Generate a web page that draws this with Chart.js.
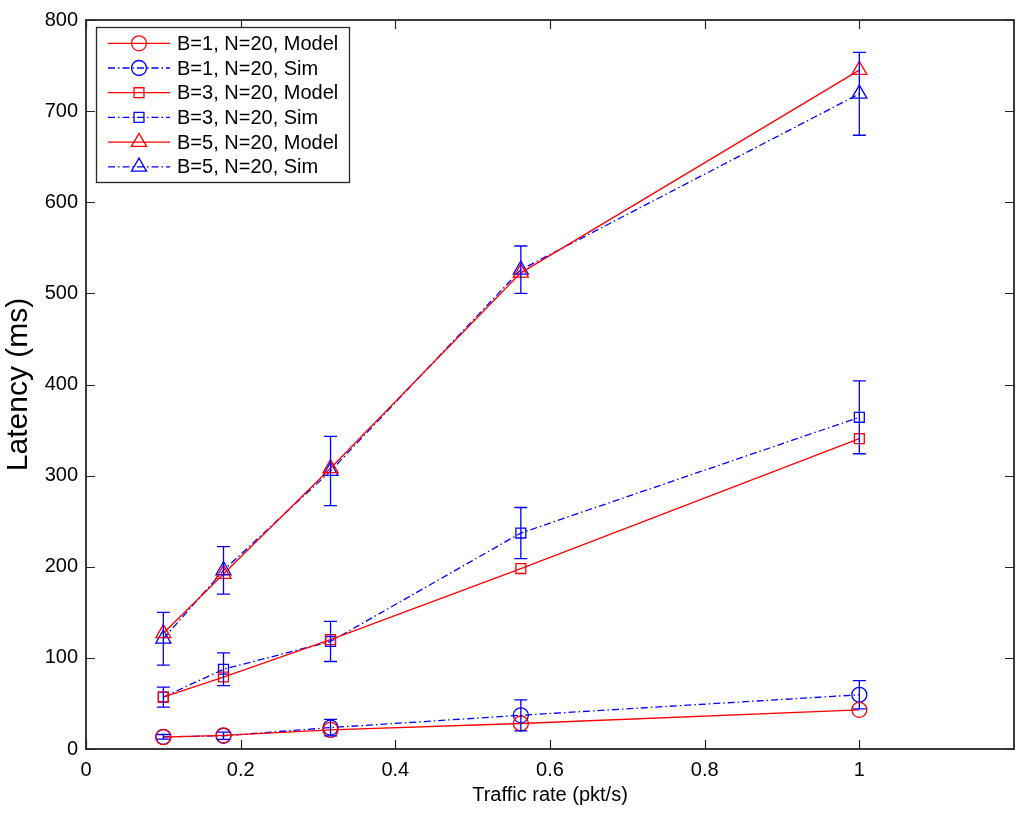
<!DOCTYPE html>
<html>
<head>
<meta charset="utf-8">
<script src="https://cdn.jsdelivr.net/npm/chart.js@4/dist/chart.umd.min.js"></script>
<style>
  html, body { margin: 0; padding: 0; background: #fff; }
  canvas { display: block; }
</style>
</head>
<body>
<canvas id="chart" width="1024" height="813"></canvas>
<script>
// traffic rates (pkt/s)
const rates = [0.1, 0.1778, 0.3162, 0.5623, 1];
const xTicks = [0, 0.2, 0.4, 0.6, 0.8, 1];
const yTicks = [0, 100, 200, 300, 400, 500, 600, 700, 800];

// latency (ms)
const b1Model = [13, 15, 21, 28, 43];
const b1Sim = [13.4, 14.5, 23.5, 37, 59.5];
const b1Err = [2.5, 4, 9, 17, 15.5];

const b3Model = [57, 79, 120, 198, 340.5];
const b3Sim = [57, 87.5, 118, 237, 364];
const b3Err = [11, 18, 22, 28, 40];

const b5Model = [127, 192, 308, 522.5, 745];
const b5Sim = [121, 196, 305, 526, 719];
const b5Err = [29, 26, 38, 26, 45.5];

const RED = "#ff0000";
const BLUE = "#0000ff";
const DASHDOT = [7, 3, 1.5, 3];

function pts(ys) {
  return rates.map((x, i) => ({ x: x, y: ys[i] }));
}

function series(label, ys, color, style, radius, dashed, errs) {
  return {
    label: label,
    data: pts(ys),
    borderColor: color,
    borderWidth: 1.3,
    borderDash: dashed ? DASHDOT : [],
    pointStyle: style,
    pointRadius: radius,
    pointBorderColor: color,
    pointBackgroundColor: "rgba(0,0,0,0)",
    pointBorderWidth: 1.3,
    tension: 0,
    fill: false,
    errors: errs || null
  };
}

Chart.defaults.font.family = "'Liberation Sans', Arial, Helvetica, sans-serif";
Chart.defaults.color = "#000";

// vertical error bars for the simulation series
const errorBars = {
  id: "errorBars",
  afterDatasetsDraw(chart) {
    const ctx = chart.ctx;
    const xs = chart.scales.x, ys = chart.scales.y;
    ctx.save();
    chart.data.datasets.forEach((ds) => {
      if (!ds.errors) return;
      ctx.strokeStyle = ds.borderColor;
      ctx.lineWidth = 1.3;
      ds.data.forEach((p, i) => {
        const px = xs.getPixelForValue(p.x);
        const top = ys.getPixelForValue(p.y + ds.errors[i]);
        const bot = ys.getPixelForValue(p.y - ds.errors[i]);
        ctx.beginPath();
        ctx.moveTo(px, top); ctx.lineTo(px, bot);
        ctx.moveTo(px - 6.5, top); ctx.lineTo(px + 6.5, top);
        ctx.moveTo(px - 6.5, bot); ctx.lineTo(px + 6.5, bot);
        ctx.stroke();
      });
    });
    ctx.restore();
  }
};

// matlab style box with inward ticks on all four sides
const axesBox = {
  id: "axesBox",
  afterDraw(chart) {
    const ctx = chart.ctx;
    const a = chart.chartArea;
    const xs = chart.scales.x, ys = chart.scales.y;
    const len = 9;
    ctx.save();
    ctx.strokeStyle = "#262626";
    ctx.lineWidth = 1.2;
    ctx.beginPath();
    xTicks.forEach((v) => {
      const px = Math.round(xs.getPixelForValue(v)) + 0.5;
      ctx.moveTo(px, a.bottom); ctx.lineTo(px, a.bottom - len);
      ctx.moveTo(px, a.top); ctx.lineTo(px, a.top + len);
    });
    yTicks.forEach((v) => {
      const py = Math.round(ys.getPixelForValue(v)) + 0.5;
      ctx.moveTo(a.left, py); ctx.lineTo(a.left + len, py);
      ctx.moveTo(a.right, py); ctx.lineTo(a.right - len, py);
    });
    ctx.stroke();
    ctx.lineWidth = 1.8;
    ctx.strokeRect(a.left, a.top, a.right - a.left, a.bottom - a.top);
    ctx.restore();
  }
};

function drawMarker(ctx, style, r, x, y) {
  ctx.beginPath();
  if (style === "circle") {
    ctx.arc(x, y, r, 0, Math.PI * 2);
  } else if (style === "rect") {
    const s = Math.SQRT1_2 * r;
    ctx.rect(x - s, y - s, 2 * s, 2 * s);
  } else if (style === "triangle") {
    for (let k = 0; k < 3; k++) {
      const ang = k * 2 * Math.PI / 3;
      const tx = x + Math.sin(ang) * r, ty = y - Math.cos(ang) * r;
      if (k === 0) ctx.moveTo(tx, ty); else ctx.lineTo(tx, ty);
    }
    ctx.closePath();
  }
  ctx.stroke();
}

// legend box in the upper left corner
const boxLegend = {
  id: "boxLegend",
  afterDraw(chart) {
    const ctx = chart.ctx;
    const left = 96, top = 27, w = 253, h = 155;
    const rowH = 24.7, firstRow = 43.3;
    ctx.save();
    ctx.fillStyle = "#fff";
    ctx.fillRect(left, top, w, h);
    ctx.strokeStyle = "#262626";
    ctx.lineWidth = 1.3;
    ctx.strokeRect(left + 0.5, top + 0.5, w, h);
    chart.data.datasets.forEach((ds, i) => {
      const cy = firstRow + i * rowH;
      ctx.strokeStyle = ds.borderColor;
      ctx.lineWidth = ds.borderWidth;
      ctx.setLineDash(ds.borderDash);
      ctx.beginPath();
      ctx.moveTo(108, cy); ctx.lineTo(170, cy);
      ctx.stroke();
      ctx.setLineDash([]);
      drawMarker(ctx, ds.pointStyle, ds.pointRadius, 139, cy);
      ctx.fillStyle = "#000";
      ctx.font = "20px 'Liberation Sans', Arial, sans-serif";
      ctx.textBaseline = "middle";
      ctx.fillText(ds.label, 177, cy + 1);
    });
    ctx.restore();
  }
};

new Chart(document.getElementById("chart"), {
  type: "line",
  data: {
    datasets: [
      series("B=1, N=20, Model", b1Model, RED, "circle", 7.5, false),
      series("B=1, N=20, Sim", b1Sim, BLUE, "circle", 7.5, true, b1Err),
      series("B=3, N=20, Model", b3Model, RED, "rect", 7, false),
      series("B=3, N=20, Sim", b3Sim, BLUE, "rect", 7, true, b3Err),
      series("B=5, N=20, Model", b5Model, RED, "triangle", 8.7, false),
      series("B=5, N=20, Sim", b5Sim, BLUE, "triangle", 8.7, true, b5Err)
    ]
  },
  options: {
    responsive: false,
    animation: false,
    devicePixelRatio: 1,
    layout: { padding: { top: 17, right: 10, left: 0, bottom: 0 } },
    plugins: {
      legend: { display: false },
      tooltip: { enabled: false }
    },
    scales: {
      x: {
        type: "linear",
        min: 0,
        max: 1.2,
        afterBuildTicks: (s) => { s.ticks = xTicks.map((v) => ({ value: v })); },
        afterFit: (s) => { s.height = 64; },
        ticks: {
          font: { size: 20 },
          padding: 9,
          maxRotation: 0,
          callback: (v) => String(+v.toFixed(1))
        },
        grid: { display: false, drawTicks: false },
        border: { display: false },
        title: {
          display: true,
          text: "Traffic rate (pkt/s)",
          font: { size: 20 },
          padding: { top: 0, bottom: 6 }
        }
      },
      y: {
        type: "linear",
        min: 0,
        max: 800,
        afterBuildTicks: (s) => { s.ticks = yTicks.map((v) => ({ value: v })); },
        afterFit: (s) => { s.width = 86; },
        ticks: {
          font: { size: 20 },
          padding: 8
        },
        grid: { display: false, drawTicks: false },
        border: { display: false },
        title: {
          display: true,
          text: "Latency (ms)",
          font: { size: 30 },
          padding: { top: 1, bottom: 0 }
        }
      }
    }
  },
  plugins: [errorBars, axesBox, boxLegend]
});
</script>
</body>
</html>
